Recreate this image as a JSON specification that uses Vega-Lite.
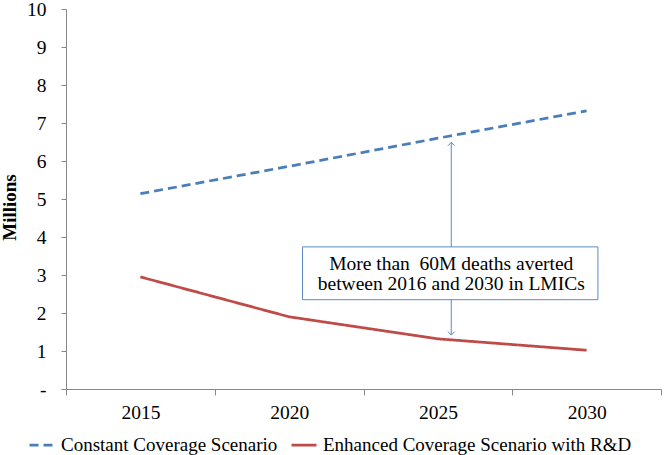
{
  "$schema": "https://vega.github.io/schema/vega-lite/v6.json",
  "width": 595,
  "height": 380,
  "autosize": "none",
  "padding": {"left": 66, "top": 9, "right": 5, "bottom": 66},
  "background": "white",
  "config": {
    "view": {"stroke": null},
    "font": "Liberation Serif",
    "axis": {"labelFont": "Liberation Serif", "titleFont": "Liberation Serif", "labelColor": "black", "titleColor": "black", "domainColor": "#888888", "tickColor": "#888888", "grid": false}
  },
  "datasets": {
    "series": [
      {"year": 2015, "value": 5.14, "scenario": "Constant Coverage Scenario"},
      {"year": 2020, "value": 5.86, "scenario": "Constant Coverage Scenario"},
      {"year": 2025, "value": 6.6, "scenario": "Constant Coverage Scenario"},
      {"year": 2030, "value": 7.32, "scenario": "Constant Coverage Scenario"},
      {"year": 2015, "value": 2.95, "scenario": "Enhanced Coverage Scenario with R&D"},
      {"year": 2020, "value": 1.9, "scenario": "Enhanced Coverage Scenario with R&D"},
      {"year": 2025, "value": 1.32, "scenario": "Enhanced Coverage Scenario with R&D"},
      {"year": 2030, "value": 1.02, "scenario": "Enhanced Coverage Scenario with R&D"}
    ],
    "box": [{"x1": 2020.45, "x2": 2030.38, "y1": 2.35, "y2": 3.74}],
    "arrow": [{"x": 2025.45, "top": 6.49, "bottom": 1.42}],
    "notes": [
      {"x": 2025.45, "y": 3.3, "text": "More than \u00a060M deaths averted"},
      {"x": 2025.45, "y": 2.76, "text": "between 2016 and 2030 in LMICs"}
    ]
  },
  "encoding": {
    "x": {
      "type": "quantitative",
      "scale": {"domain": [2012.5, 2032.5], "nice": false, "zero": false},
      "axis": {
        "title": null,
        "values": [2012.5, 2015, 2017.5, 2020, 2022.5, 2025, 2027.5, 2030, 2032.5],
        "format": "d",
        "labelExpr": "datum.value % 5 === 0 ? datum.label : ''",
        "labelOverlap": false,
        "labelFontSize": 19.5,
        "labelPadding": 8,
        "tickSize": 6,
        "tickOpacity": {"condition": {"test": "datum.value % 5 === 0", "value": 0}, "value": 1}
      }
    },
    "y": {
      "type": "quantitative",
      "scale": {"domain": [0, 10], "nice": false},
      "axis": {
        "title": "Millions",
        "titleFontSize": 19,
        "titleFontWeight": "bold",
        "titleX": -57,
        "titleY": 198,
        "titleAngle": 270,
        "titleAlign": "center",
        "titleBaseline": "middle",
        "values": [0, 1, 2, 3, 4, 5, 6, 7, 8, 9, 10],
        "labelExpr": "datum.value === 0 ? '-' : datum.label",
        "labelFontSize": 19.5,
        "labelPadding": 15,
        "tickSize": 5
      }
    }
  },
  "layer": [
    {
      "data": {"name": "series"},
      "mark": {"type": "line", "strokeWidth": 2.75},
      "encoding": {
        "x": {"field": "year"},
        "y": {"field": "value"},
        "color": {
          "field": "scenario", "type": "nominal",
          "scale": {"range": ["#4a7ebb", "#be4b48"]},
          "legend": {
            "title": null, "orient": "none", "legendX": -38, "legendY": 422,
            "direction": "horizontal", "labelFontSize": 19, "labelFont": "Liberation Serif",
            "symbolType": "stroke", "symbolSize": 625, "symbolStrokeWidth": 2.75,
            "labelOffset": 5, "columnPadding": 8, "labelLimit": 400
          }
        },
        "strokeDash": {
          "field": "scenario", "type": "nominal",
          "scale": {"range": [[9, 5], [1, 0]]},
          "legend": {
            "title": null, "orient": "none", "legendX": -38, "legendY": 422,
            "direction": "horizontal", "labelFontSize": 19, "labelFont": "Liberation Serif",
            "symbolType": "stroke", "symbolSize": 625, "symbolStrokeWidth": 2.75,
            "labelOffset": 5, "columnPadding": 8, "labelLimit": 400
          }
        }
      }
    },
    {
      "data": {"name": "arrow"},
      "mark": {"type": "rule", "color": "#5b8ac6", "strokeWidth": 1},
      "encoding": {"x": {"field": "x"}, "y": {"field": "top"}, "y2": {"field": "bottom"}}
    },
    {
      "data": {"name": "box"},
      "mark": {"type": "rect", "fill": "white", "stroke": "#5b8ac6", "strokeWidth": 1},
      "encoding": {"x": {"field": "x1"}, "x2": {"field": "x2"}, "y": {"field": "y1"}, "y2": {"field": "y2"}}
    },
    {
      "data": {"name": "notes"},
      "mark": {"type": "text", "fontSize": 19.5, "font": "Liberation Serif", "color": "black", "align": "center", "baseline": "middle"},
      "encoding": {"x": {"field": "x"}, "y": {"field": "y"}, "text": {"field": "text"}}
    },
    {
      "data": {"name": "arrow"},
      "mark": {"type": "point", "shape": "M-1,1L0,0L1,1", "filled": false, "stroke": "#5b8ac6", "strokeWidth": 1, "size": 45, "opacity": 1},
      "encoding": {"x": {"field": "x"}, "y": {"field": "top"}}
    },
    {
      "data": {"name": "arrow"},
      "mark": {"type": "point", "shape": "M-1,-1L0,0L1,-1", "filled": false, "stroke": "#5b8ac6", "strokeWidth": 1, "size": 45, "opacity": 1},
      "encoding": {"x": {"field": "x"}, "y": {"field": "bottom"}}
    }
  ]
}
